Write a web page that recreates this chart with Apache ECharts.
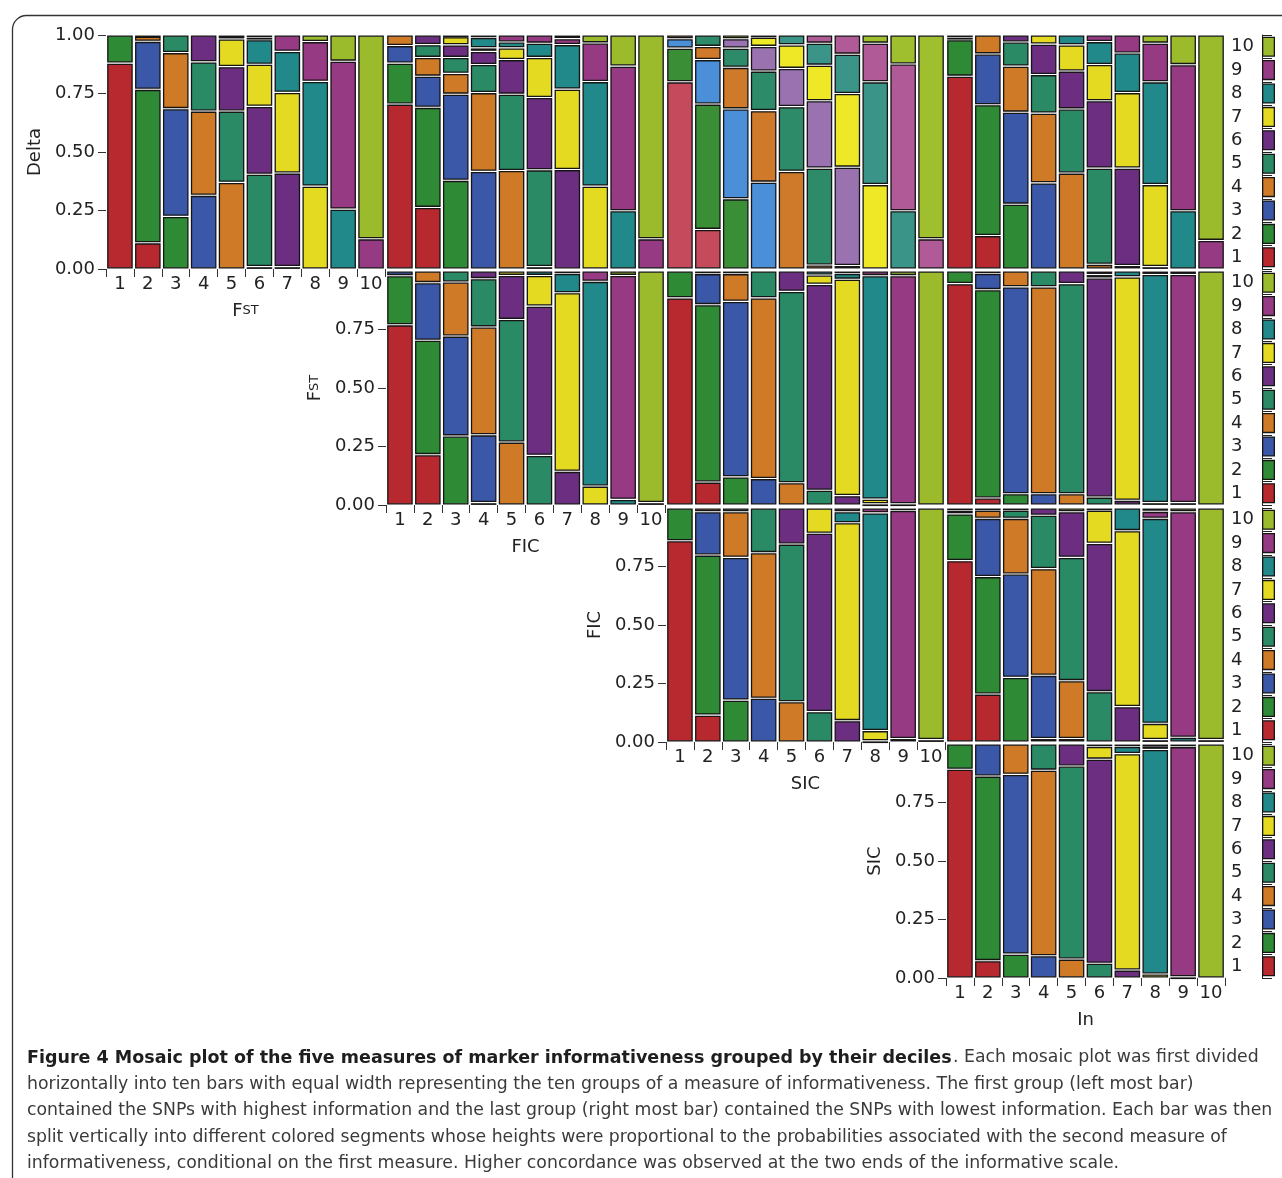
<!DOCTYPE html>
<html lang="en">
<head>
<meta charset="utf-8">
<title>Mosaic plot of marker informativeness</title>
<script src="https://cdn.jsdelivr.net/npm/echarts@6/dist/echarts.min.js"></script>
<style>
  html, body { margin: 0; padding: 0; background: #fff; }
  #chart { width: 1282px; height: 1178px; }
</style>
</head>
<body>
<div id="chart"></div>
<script>
// deciles of each measure (x categories and stacked segment categories)
var deciles = ['1', '2', '3', '4', '5', '6', '7', '8', '9', '10'];
var rowNames = ['Delta', 'Fst', 'FIC', 'SIC'];
var colNames = ['Fst', 'FIC', 'SIC', 'In'];
var yTicks = [0, 0.25, 0.5, 0.75, 1];

// colours of the second measure's deciles 1..10
var palette = ['#b7282f', '#2f8a35', '#3b58a8', '#cf7a26', '#2a8a66', '#6b2e80', '#e3da21', '#22898a', '#973a84', '#9bbb2c'];
var paletteLight = ['#c54a5b', '#3a8f36', '#4b8fd8', '#cf7a2a', '#2e8b69', '#9a72b0', '#efe826', '#3a9488', '#b05a98', '#9fbf2e'];

// each panel: 10 bars (x decile), each bar = share of y decile 1..10 (bottom to top)
var deltaFst = [
  [.880, .120, 0, 0, 0, 0, 0, 0, 0, 0],
  [.112, .656, .205, .022, .005, 0, 0, 0, 0, 0],
  [0, .225, .460, .240, .075, 0, 0, 0, 0, 0],
  [0, 0, .315, .360, .210, .115, 0, 0, 0, 0],
  [0, 0, 0, .370, .305, .190, .118, .012, .005, 0],
  [0, 0, 0, .010, .395, .290, .180, .105, .010, .010],
  [0, 0, 0, 0, .010, .400, .345, .175, .070, 0],
  [0, 0, 0, 0, 0, 0, .354, .448, .170, .028],
  [0, 0, 0, 0, 0, 0, 0, .256, .632, .112],
  [0, 0, 0, 0, 0, 0, 0, 0, .129, .871]
];
var deltaFic = [
  [.705, .175, .075, .045, 0, 0, 0, 0, 0, 0],
  [.263, .428, .133, .080, .055, .041, 0, 0, 0, 0],
  [0, .379, .368, .089, .068, .054, .035, .007, 0, 0],
  [0, 0, .417, .337, .120, .056, .015, .045, .010, 0],
  [0, 0, 0, .421, .326, .148, .050, .025, .030, 0],
  [0, 0, 0, .010, .414, .309, .171, .061, .035, 0],
  [0, 0, 0, 0, 0, .417, .337, .187, .025, .015],
  [0, 0, 0, 0, 0, 0, .354, .447, .165, .034],
  [0, 0, 0, 0, 0, 0, 0, .249, .618, .133],
  [0, 0, 0, 0, 0, 0, 0, 0, .129, .871]
];
var deltaSic = [
  [.800, .144, .040, .016, 0, 0, 0, 0, 0, 0],
  [.169, .536, .190, .056, .049, 0, 0, 0, 0, 0],
  [0, .300, .384, .178, .082, .040, .016, 0, 0, 0],
  [0, 0, .371, .306, .169, .105, .040, .009, 0, 0],
  [0, 0, 0, .417, .277, .163, .101, .042, 0, 0],
  [0, 0, 0, .017, .414, .288, .152, .094, .035, 0],
  [0, 0, 0, 0, .015, .420, .315, .168, .082, 0],
  [0, 0, 0, 0, 0, 0, .361, .439, .165, .035],
  [0, 0, 0, 0, 0, 0, 0, .249, .627, .124],
  [0, 0, 0, 0, 0, 0, 0, 0, .129, .871]
];
var deltaIn = [
  [.824, .156, .010, .010, 0, 0, 0, 0, 0, 0],
  [.143, .559, .217, .081, 0, 0, 0, 0, 0, 0],
  [0, .277, .393, .197, .103, .030, 0, 0, 0, 0],
  [0, 0, .368, .298, .165, .130, .039, 0, 0, 0],
  [0, 0, 0, .410, .274, .162, .112, .042, 0, 0],
  [0, 0, 0, .020, .411, .288, .155, .098, .028, 0],
  [0, 0, 0, 0, .015, .416, .323, .169, .077, 0],
  [0, 0, 0, 0, 0, .010, .351, .439, .165, .035],
  [0, 0, 0, 0, 0, 0, 0, .249, .624, .127],
  [0, 0, 0, 0, 0, 0, 0, 0, .122, .878]
];
var fstFic = [
  [.770, .210, .020, 0, 0, 0, 0, 0, 0, 0],
  [.215, .489, .246, .050, 0, 0, 0, 0, 0, 0],
  [0, .295, .427, .231, .047, 0, 0, 0, 0, 0],
  [0, .010, .290, .461, .206, .033, 0, 0, 0, 0],
  [0, 0, 0, .269, .524, .188, .019, 0, 0, 0],
  [0, 0, 0, 0, .212, .638, .131, .019, 0, 0],
  [0, 0, 0, 0, 0, .144, .763, .083, .010, 0],
  [0, 0, 0, 0, 0, 0, .081, .875, .044, 0],
  [0, 0, 0, 0, 0, 0, 0, .024, .957, .019],
  [0, 0, 0, 0, 0, 0, 0, 0, .010, .990]
];
var fstSic = [
  [.885, .115, 0, 0, 0, 0, 0, 0, 0, 0],
  [.098, .758, .133, .011, 0, 0, 0, 0, 0, 0],
  [0, .120, .750, .119, .011, 0, 0, 0, 0, 0],
  [0, 0, .113, .772, .115, 0, 0, 0, 0, 0],
  [0, 0, 0, .095, .818, .087, 0, 0, 0, 0],
  [0, 0, 0, 0, .063, .880, .040, .017, 0, 0],
  [0, 0, 0, 0, 0, .040, .925, .025, .010, 0],
  [0, 0, 0, 0, 0, .005, .020, .955, .020, 0],
  [0, 0, 0, 0, 0, 0, 0, .005, .975, .020],
  [0, 0, 0, 0, 0, 0, 0, 0, 0, 1]
];
var fstIn = [
  [.946, .054, 0, 0, 0, 0, 0, 0, 0, 0],
  [.030, .890, .070, .010, 0, 0, 0, 0, 0, 0],
  [0, .048, .884, .068, 0, 0, 0, 0, 0, 0],
  [0, 0, .048, .884, .068, 0, 0, 0, 0, 0],
  [0, 0, 0, .048, .898, .054, 0, 0, 0, 0],
  [0, 0, 0, 0, .034, .936, .015, .015, 0, 0],
  [0, 0, 0, 0, 0, .020, .955, .025, 0, 0],
  [0, 0, 0, 0, 0, 0, .010, .975, .015, 0],
  [0, 0, 0, 0, 0, 0, 0, .010, .975, .015],
  [0, 0, 0, 0, 0, 0, 0, 0, 0, 1]
];
var ficSic = [
  [.860, .140, 0, 0, 0, 0, 0, 0, 0, 0],
  [.115, .684, .185, .016, 0, 0, 0, 0, 0, 0],
  [0, .179, .610, .195, .016, 0, 0, 0, 0, 0],
  [0, 0, .187, .622, .191, 0, 0, 0, 0, 0],
  [0, 0, 0, .172, .674, .154, 0, 0, 0, 0],
  [0, 0, 0, 0, .130, .762, .108, 0, 0, 0],
  [0, 0, 0, 0, 0, .091, .846, .047, .016, 0],
  [0, 0, 0, 0, 0, .005, .044, .930, .021, 0],
  [0, 0, 0, 0, 0, 0, 0, .015, .975, .010],
  [0, 0, 0, 0, 0, 0, 0, 0, .010, .990]
];
var ficIn = [
  [.775, .200, .015, .010, 0, 0, 0, 0, 0, 0],
  [.205, .502, .249, .035, .009, 0, 0, 0, 0, 0],
  [0, .276, .442, .238, .035, .009, 0, 0, 0, 0],
  [0, .015, .270, .456, .228, .031, 0, 0, 0, 0],
  [0, 0, .015, .247, .527, .195, .016, 0, 0, 0],
  [0, 0, 0, 0, .215, .634, .142, .009, 0, 0],
  [0, 0, 0, 0, 0, .151, .752, .097, 0, 0],
  [0, 0, 0, 0, 0, .010, .070, .876, .030, .014],
  [0, 0, 0, 0, 0, 0, 0, .020, .964, .016],
  [0, 0, 0, 0, 0, 0, 0, 0, .010, .990]
];
var sicIn = [
  [.892, .108, 0, 0, 0, 0, 0, 0, 0, 0],
  [.074, .789, .137, 0, 0, 0, 0, 0, 0, 0],
  [0, .102, .768, .130, 0, 0, 0, 0, 0, 0],
  [0, 0, .095, .793, .112, 0, 0, 0, 0, 0],
  [0, 0, 0, .081, .825, .094, 0, 0, 0, 0],
  [0, 0, 0, 0, .063, .872, .055, .010, 0, 0],
  [0, 0, 0, 0, 0, .034, .925, .031, .010, 0],
  [0, 0, 0, 0, 0, 0, .017, .960, .015, .008],
  [0, 0, 0, 0, 0, 0, 0, .005, .984, .011],
  [0, 0, 0, 0, 0, 0, 0, 0, 0, 1]
];

var panels = [
  {row: 0, col: 0, data: deltaFst},
  {row: 0, col: 1, data: deltaFic},
  {row: 0, col: 2, data: deltaSic, light: true},
  {row: 0, col: 3, data: deltaIn},
  {row: 1, col: 1, data: fstFic},
  {row: 1, col: 2, data: fstSic},
  {row: 1, col: 3, data: fstIn},
  {row: 2, col: 2, data: ficSic},
  {row: 2, col: 3, data: ficIn},
  {row: 3, col: 3, data: sicIn}
];

// caption, one entry per printed line
var captionBold = 'Figure 4 Mosaic plot of the five measures of marker informativeness grouped by their deciles';
var captionLines = [
  '. Each mosaic plot was first divided',
  'horizontally into ten bars with equal width representing the ten groups of a measure of informativeness. The first group (left most bar)',
  'contained the SNPs with highest information and the last group (right most bar) contained the SNPs with lowest information. Each bar was then',
  'split vertically into different colored segments whose heights were proportional to the probabilities associated with the second measure of',
  'informativeness, conditional on the first measure. Higher concordance was observed at the two ends of the informative scale.'
];

var FONT = 'DejaVu Sans';
var LABEL_SIZE = 18;
var colLeft = [106, 386, 666, 946];
var rowTop = [35, 271, 508, 744];
var panelW = 279, panelH = 234;

function axisTitle(name) {
  // Fst is typeset with small caps
  return name === 'Fst' ? '{a|F}{b|ST}' : name;
}
var titleRich = {
  a: {fontSize: LABEL_SIZE, fontFamily: FONT, color: '#222'},
  b: {fontSize: 13, fontFamily: FONT, color: '#222'}
};

// turn shares into [bar, start, end, category] segments
function segments(bars) {
  var out = [];
  bars.forEach(function (shares, i) {
    var total = shares.reduce(function (a, b) { return a + b; }, 0);
    var acc = 0;
    shares.forEach(function (v, k) {
      if (v <= 0) return;
      var s = acc / total;
      acc += v;
      out.push([i, s, acc / total, k]);
    });
  });
  return out;
}

function mosaicItem(colors) {
  return function (params, api) {
    var x = api.value(0);
    var lo = api.coord([x, api.value(1)]);
    var hi = api.coord([x, api.value(2)]);
    var w = api.size([1, 0])[0] * 0.87;
    var h = Math.max(lo[1] - hi[1] - 2.4, 0.4);
    return {
      type: 'rect',
      shape: {x: lo[0] - w / 2, y: hi[1] + 1.2, width: w, height: h},
      style: {fill: colors[api.value(3)], stroke: '#151515', lineWidth: 1.3}
    };
  };
}

var grids = [], xAxes = [], yAxes = [], series = [];

panels.forEach(function (p, idx) {
  var diag = p.row === p.col;
  grids.push({left: colLeft[p.col], top: rowTop[p.row], width: panelW, height: panelH});
  xAxes.push({
    gridIndex: idx, type: 'category', data: deciles,
    axisLine: {show: false},
    axisTick: {show: diag, interval: 0, length: 8, lineStyle: {color: '#333'}},
    axisLabel: {show: diag, interval: 0, margin: 6, fontSize: LABEL_SIZE, fontFamily: FONT, color: '#222'},
    name: diag ? axisTitle(colNames[p.col]) : '',
    nameLocation: 'middle', nameGap: 33,
    nameTextStyle: {fontSize: LABEL_SIZE, fontFamily: FONT, color: '#222', rich: titleRich}
  });
  var shown = p.row === 0 ? yTicks : yTicks.slice(0, 4);
  yAxes.push({
    gridIndex: idx, type: 'value', min: 0, max: 1, interval: 0.25,
    splitLine: {show: false},
    axisLine: {show: false},
    axisTick: {show: diag, length: 8, customValues: shown, lineStyle: {color: '#333'}},
    axisLabel: {
      show: diag, margin: 11, fontSize: LABEL_SIZE, fontFamily: FONT, color: '#222',
      customValues: shown,
      formatter: function (v) { return v.toFixed(2); }
    },
    name: diag ? axisTitle(rowNames[p.row]) : '',
    nameLocation: 'middle', nameGap: 62,
    nameTextStyle: {fontSize: LABEL_SIZE, fontFamily: FONT, color: '#222', rich: titleRich}
  });
  series.push({
    type: 'custom', xAxisIndex: idx, yAxisIndex: idx,
    renderItem: mosaicItem(p.light ? paletteLight : palette),
    encode: {x: 0, y: [1, 2]},
    data: segments(p.data),
    silent: true
  });
});

// colour key to the right of each row
rowTop.forEach(function (top, r) {
  var gi = grids.length;
  grids.push({left: 1262, top: top, width: 13, height: panelH});
  xAxes.push({gridIndex: gi, type: 'value', min: 0, max: 1, show: false});
  yAxes.push({
    gridIndex: gi, type: 'category', data: deciles, position: 'left', offset: 36,
    axisLine: {show: true, lineStyle: {color: '#222', width: 1}},
    axisTick: {show: true, interval: 0, inside: true, length: 10, lineStyle: {color: '#222'}},
    axisLabel: {interval: 0, inside: true, margin: 5, fontSize: LABEL_SIZE, fontFamily: FONT, color: '#222'}
  });
  series.push({
    type: 'bar', xAxisIndex: gi, yAxisIndex: gi, barCategoryGap: '14%',
    silent: true,
    data: deciles.map(function (d, k) {
      return {value: 1, itemStyle: {color: palette[k], borderColor: '#151515', borderWidth: 1.3}};
    })
  });
});

var CAP_TOP = 1049.5, CAP_LINE = 26.5, CAP_SIZE = 17.3;
var graphics = [
  {
    type: 'rect', left: 10, top: 13, silent: true, z: -1,
    shape: {width: 1300, height: 1220, r: 14},
    style: {fill: 'none', stroke: '#333', lineWidth: 1.3}
  },
  {
    type: 'text', left: 27, top: CAP_TOP, silent: true,
    style: {text: captionBold, fontSize: 17.5, fontWeight: 'bold', fontFamily: FONT, fill: '#1e1e1e'}
  }
];
captionLines.forEach(function (line, i) {
  graphics.push({
    type: 'text', silent: true,
    left: i === 0 ? 953 : 27, top: CAP_TOP + i * CAP_LINE,
    style: {text: line, fontSize: CAP_SIZE, fontFamily: FONT, fill: '#3a3a3a'}
  });
});

var option = {
  animation: false,
  backgroundColor: '#fff',
  grid: grids,
  xAxis: xAxes,
  yAxis: yAxes,
  series: series,
  graphic: graphics
};

var chart = echarts.init(document.getElementById('chart'));
chart.setOption(option);
</script>
</body>
</html>
